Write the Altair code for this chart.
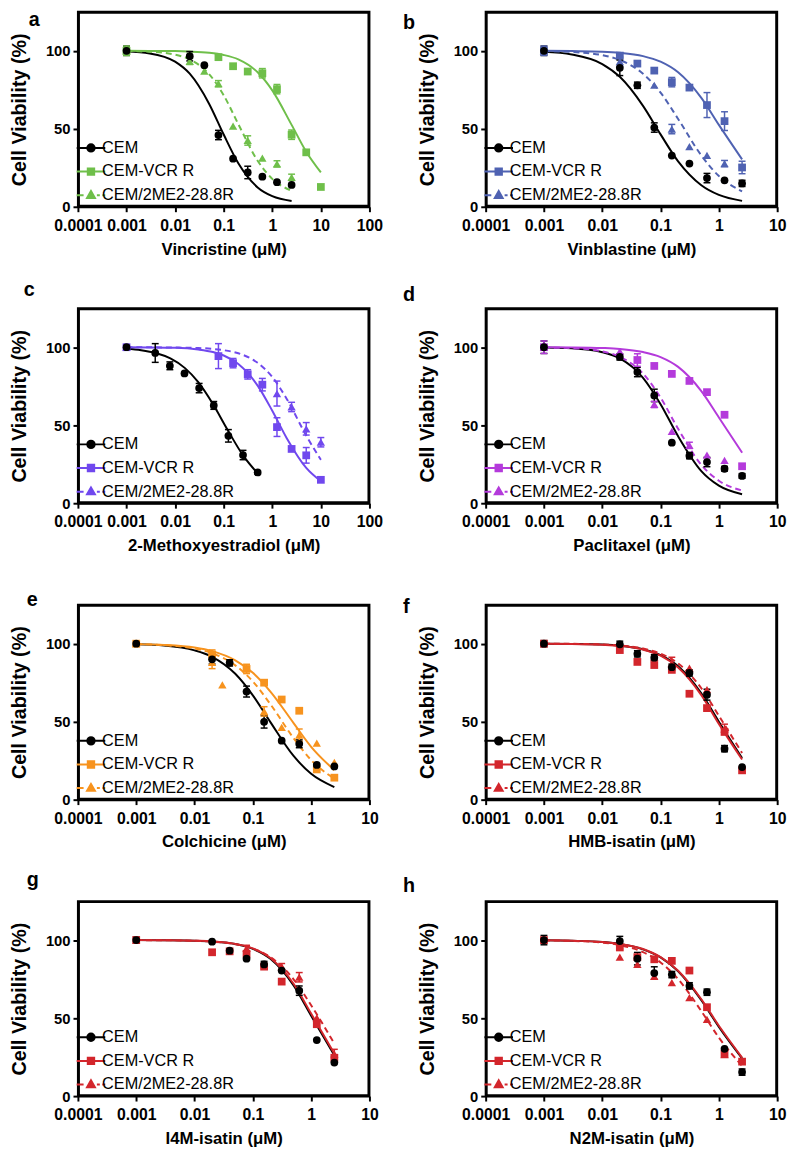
import altair as alt
import pandas as pd

# ---------------- data ----------------
SERIES = ["CEM", "CEM-VCR R", "CEM/2ME2-28.8R"]
PANEL_IDS = ["a", "b", "c", "d", "e", "f", "g", "h"]
DRUGS = ["Vincristine (μM)", "Vinblastine (μM)", "2-Methoxyestradiol (μM)",
         "Paclitaxel (μM)", "Colchicine (μM)", "HMB-isatin (μM)",
         "I4M-isatin (μM)", "N2M-isatin  (μM)"]
X_MIN = 0.0001
X_MAX = [100, 10, 100, 10, 10, 10, 10, 10]
Y_MAX = 125
PANEL_COLORS = ["#6FBF4A", "#4F62B2", "#7048EE", "#B43ADB",
                "#F7931E", "#D3262C", "#D3262C", "#D3262C"]
X_TICKS = [0.0001, 0.001, 0.01, 0.1, 1, 10, 100]
Y_TICKS = [0, 50, 100]

CONC = [0.001, 0.02, 0.04, 0.078, 0.156, 0.3125, 0.625, 1.25, 2.5]
CONC_C = [0.001, 0.0039, 0.0078, 0.0156, 0.03125, 0.0625, 0.125, 0.25, 0.5]
CONC_HI = [0.001, 0.078, 0.156, 0.3125, 0.625, 1.25, 2.5, 5, 10]

GRID = [0.001, 0.003, 0.01, 0.02, 0.05, 0.1, 0.2, 0.5, 1, 2.5]
GRID_A_VCR = [0.001, 0.003, 0.01, 0.02, 0.05, 0.1, 0.2, 0.5, 1, 2.5, 5, 10]
GRID_C_CEM = [0.001, 0.002, 0.004, 0.008, 0.016, 0.03, 0.06, 0.12, 0.25, 0.5]
GRID_C_RES = [0.001, 0.01, 0.03, 0.06, 0.1, 0.2, 0.5, 1, 2, 5, 10]

# measured points: (x, viability %, error)
PTS_A = {
    "CEM": (CONC, [100, 96.5, 90.8, 46, 30.8, 22, 19.3, 15.8, 14], [3, 3, 0, 3, 0, 4, 0, 0, 0]),
    "CEM-VCR R": (CONC_HI, [100, 95.9, 90.1, 86.7, 85.6, 75.4, 46.2, 34.9, 12.7], [0, 0, 0, 0, 3, 3, 3, 0, 0]),
    "CEM/2ME2-28.8R": (CONC, [100, 93.2, 87, 78.9, 51.7, 42.5, 31.2, 27.5, 18.9], [3, 2, 0, 2, 0, 3, 0, 2, 2]),
}
PTS_B = {
    "CEM": (CONC, [100, 89.1, 77.9, 50.8, 32.8, 27.7, 18.4, 17, 15], [3, 5, 2, 3, 0, 0, 3, 0, 2]),
    "CEM-VCR R": (CONC, [100, 96.9, 91.8, 87.3, 79.9, 76.4, 65.2, 54.9, 25.2], [3, 0, 0, 0, 3, 0, 8, 6, 4]),
    "CEM/2ME2-28.8R": ([0.001, 0.02, 0.078, 0.156, 0.3125, 0.625, 1.25],
                       [100, 93, 77.9, 49.8, 38.5, 33, 27.7], [0, 3, 0, 3, 0, 0, 2]),
}
PTS_C = {
    "CEM": (CONC_C, [100, 96.3, 88.1, 83.2, 73.8, 62.7, 43.2, 30.9, 19.7], [0, 6, 2.5, 0, 3, 2.5, 4, 3, 1]),
    "CEM-VCR R": (CONC_HI, [100, 94.3, 89.8, 82.6, 76, 48.8, 34.8, 30.7, 15], [0, 8, 3, 3, 4, 6, 0, 5, 0]),
    "CEM/2ME2-28.8R": ([0.001, 1.25, 2.5, 5, 10], [100, 70.3, 61.7, 47.7, 39.1], [0, 8, 3, 4, 3]),
}
PTS_D = {
    "CEM": (CONC, [100, 93.8, 84.1, 69.1, 38.8, 30.5, 26.4, 22.1, 17.5], [4, 2, 3, 4, 0, 2, 3, 1.5, 1.5]),
    "CEM-VCR R": ([0.001, 0.04, 0.078, 0.156, 0.3125, 0.625, 1.25, 2.5],
                  [100, 91.8, 88, 82.9, 78.4, 71.2, 56.7, 23.7], [4, 4, 0, 0, 0, 0, 0, 0]),
    "CEM/2ME2-28.8R": ([0.001, 0.02, 0.078, 0.156, 0.3125, 0.625, 1.25],
                       [100, 97.3, 63.3, 46, 37.1, 30.9, 27.4], [0, 0, 2, 0, 2, 0, 0]),
}
PTS_E = {
    "CEM": (CONC, [100, 90, 87.7, 69.3, 49.9, 37.8, 35.8, 22.3, 21.3], [0, 3, 2, 3.5, 4, 0, 2.5, 0, 0]),
    "CEM-VCR R": ([0.001, 0.02, 0.078, 0.156, 0.3125, 0.625, 1.25, 2.5],
                  [100, 93, 83.8, 75, 64.2, 57, 19.4, 14.1], [0, 3, 3, 0, 0, 0, 0, 0]),
    "CEM/2ME2-28.8R": ([0.001, 0.02, 0.03, 0.156, 0.3125, 0.625, 1.25, 2.5],
                       [100, 88, 73.6, 56.6, 46.4, 41.3, 36.2, 23.9], [0, 4, 0, 3, 0, 4, 0, 0]),
}
PTS_F = {
    "CEM": (CONC, [100, 99.6, 93.5, 91, 84.9, 81.2, 67.3, 32.7, 20.9], [2, 2, 2, 2, 2, 2, 3.5, 2, 0]),
    "CEM-VCR R": (CONC, [100, 95.9, 88.3, 86.3, 83.2, 67.9, 58.7, 43.4, 18.8], [0, 0, 0, 0, 0, 0, 0, 0, 0]),
    "CEM/2ME2-28.8R": ([0.078, 0.156, 0.3125, 0.625, 1.25], [91.4, 87.3, 84.3, 70.6, 45.4], [0, 4, 0, 0, 3]),
}
PTS_G = {
    "CEM": (CONC, [100, 99, 93.2, 88.1, 84.4, 80.5, 67.6, 35.9, 21.5], [2, 0, 0, 0, 2, 0, 3, 0, 0]),
    "CEM-VCR R": ([0.001, 0.02, 0.04, 0.078, 0.156, 0.3125, 1.25, 2.5],
                  [100, 92.2, 92.8, 91.2, 83, 73.4, 46.1, 24.6], [0, 0, 0, 0, 0, 0, 0, 0]),
    "CEM/2ME2-28.8R": ([0.078, 0.3125, 0.625, 1.25, 2.5], [94.7, 83, 76.2, 50.2, 27], [2, 2, 3, 0, 3]),
}
PTS_H = {
    "CEM": (CONC, [100, 99.4, 88.1, 78.9, 77.9, 70.7, 66.6, 30.3, 15.4], [3, 3, 4, 4, 2, 2, 2, 0, 2]),
    "CEM-VCR R": (CONC, [100, 95.3, 89.1, 87.7, 86.7, 80.5, 57, 27, 22.1], [0, 0, 0, 0, 0, 0, 0, 0, 0]),
    "CEM/2ME2-28.8R": ([0.02, 0.04, 0.078, 0.156, 0.3125, 0.625, 1.25],
                       [89.1, 84.4, 76.8, 72.7, 63.1, 49.2, 26.6], [0, 0, 0, 0, 0, 0, 0]),
}

# fitted curves at sample concentrations
CURVE_A = {
    "CEM": (GRID, [99.5, 98.3, 93.0, 85.3, 66.1, 46.3, 27.9, 12.4, 6.8, 3.7]),
    "CEM-VCR R": (GRID_A_VCR, [100, 99.9, 99.8, 99.5, 98.7, 97.3, 94.5, 86.2, 74.6, 52.5, 35.3, 22.0]),
    "CEM/2ME2-28.8R": (GRID, [99.8, 99.4, 97.5, 94.4, 85.1, 71.5, 53.0, 29.5, 17.9, 10.3]),
}
CURVE_B = {
    "CEM": (GRID, [99.3, 97.6, 91.5, 83.3, 64.7, 46.4, 29.1, 13.8, 7.6, 3.8]),
    "CEM-VCR R": (GRID, [100, 99.8, 99.4, 98.7, 96.6, 93.0, 86.2, 69.8, 52.5, 30.4]),
    "CEM/2ME2-28.8R": (GRID, [99.8, 99.2, 97.2, 94.1, 85.3, 73.2, 56.3, 32.9, 19.7, 9.9]),
}
CURVE_C = {
    "CEM": (GRID_C_CEM, [99.0, 98.1, 96.3, 92.8, 86.6, 77.6, 63.6, 47.1, 30.7, 19.2]),
    "CEM-VCR R": (GRID_C_RES, [100, 99.6, 98.5, 96.9, 94.7, 89.2, 75.4, 59.3, 41.5, 22.6, 14.1]),
    "CEM/2ME2-28.8R": (GRID_C_RES, [100, 99.8, 99.5, 98.9, 98.1, 96.1, 90.0, 80.9, 66.7, 43.3, 27.8]),
}
CURVE_D = {
    "CEM": (GRID, [99.8, 99.3, 96.8, 92.8, 80.4, 63.5, 42.9, 20.6, 11.3, 5.8]),
    "CEM-VCR R": (GRID, [100, 99.9, 99.5, 98.9, 96.9, 93.7, 87.4, 71.9, 55.0, 32.4]),
    "CEM/2ME2-28.8R": (GRID, [99.8, 99.4, 97.3, 93.9, 83.1, 67.7, 47.7, 24.6, 14.4, 8.2]),
}
CURVE_E = {
    "CEM": (GRID, [99.6, 98.8, 95.7, 91.6, 80.7, 66.9, 49.7, 28.0, 16.6, 8.1]),
    "CEM-VCR R": (GRID, [99.7, 99.2, 97.5, 95.2, 89.3, 81.3, 69.3, 49.1, 33.9, 18.9]),
    "CEM/2ME2-28.8R": (GRID, [99.7, 99.0, 96.9, 93.9, 86.1, 75.8, 61.2, 39.4, 25.4, 13.4]),
}
CURVE_F = {
    "CEM": (GRID, [100, 99.8, 99.4, 98.7, 96.4, 92.6, 85.5, 68.2, 50.0, 26.7]),
    "CEM-VCR R": (GRID, [99.9, 99.8, 99.3, 98.6, 96.2, 92.3, 84.7, 67.0, 48.6, 25.7]),
    "CEM/2ME2-28.8R": (GRID, [100, 99.9, 99.5, 98.9, 96.9, 93.6, 87.3, 71.4, 53.8, 29.9]),
}
CURVE_G = {
    "CEM": (GRID, [100, 99.9, 99.6, 99.1, 97.5, 94.4, 88.0, 70.9, 51.5, 26.1]),
    "CEM-VCR R": (GRID, [100, 99.9, 99.6, 99.2, 97.6, 94.7, 88.5, 72.0, 52.9, 27.2]),
    "CEM/2ME2-28.8R": (GRID, [100, 99.9, 99.6, 99.0, 97.4, 94.6, 89.1, 74.9, 58.2, 33.7]),
}
CURVE_H = {
    "CEM": (GRID, [99.9, 99.6, 98.8, 97.6, 94.1, 88.9, 80.0, 61.5, 44.4, 24.2]),
    "CEM-VCR R": (GRID, [99.9, 99.6, 98.8, 97.6, 94.3, 89.1, 80.4, 62.1, 45.1, 24.7]),
    "CEM/2ME2-28.8R": (GRID, [99.8, 99.5, 98.4, 96.8, 92.3, 85.7, 75.0, 54.5, 37.5, 19.4]),
}

ALL_PTS = [PTS_A, PTS_B, PTS_C, PTS_D, PTS_E, PTS_F, PTS_G, PTS_H]
ALL_CURVES = [CURVE_A, CURVE_B, CURVE_C, CURVE_D, CURVE_E, CURVE_F, CURVE_G, CURVE_H]

# ---------------- tables ----------------
prow, crow = [], []
for pid, pts, crv in zip(PANEL_IDS, ALL_PTS, ALL_CURVES):
    for s in SERIES:
        xs, ys, es = pts[s]
        for x, y, e in zip(xs, ys, es):
            prow.append({"panel": pid, "series": s, "x": x, "y": y, "err": e})
        cx, cy = crv[s]
        for x, y in zip(cx, cy):
            crow.append({"panel": pid, "series": s, "x": x, "y": y})
points_df = pd.DataFrame(prow)
curves_df = pd.DataFrame(crow)

# ---------------- style ----------------
FONT = "Liberation Sans"
W, H = 296, 198
SHAPES = ["circle", "square", "triangle-up"]
LEGEND_PATHS = [
    "M-2.9,0L2.9,0M0.75,0A0.75,0.75,0,1,1,-0.75,0A0.75,0.75,0,1,1,0.75,0Z",
    "M-2.9,0L2.9,0M-0.65,-0.65L0.65,-0.65L0.65,0.65L-0.65,0.65Z",
    "M-2.9,0L-1.5,0M1.2,0L1.8,0M2.3,0L2.9,0M0,-0.85L0.8,0.55L-0.8,0.55Z",
]
LETTER_POS = {"a": (-50, 14), "b": (-84, 17), "c": (-55, -12), "d": (-84, -7),
              "e": (-52, 1), "f": (-84, 8), "g": (-52, -15), "h": (-84, -9)}


def make_panel(i):
    pid = PANEL_IDS[i]
    col = PANEL_COLORS[i]
    colors = ["black", col, col]
    xscale = alt.Scale(type="log", domain=[X_MIN, X_MAX[i]], nice=False)
    yscale = alt.Scale(domain=[0, Y_MAX], nice=False)
    xaxis = alt.Axis(values=[t for t in X_TICKS if t <= X_MAX[i]], format="~g",
                     title=DRUGS[i], labelOverlap=False, labelFlush=False,
                     labelFontSize=16, labelPadding=6, titleFontSize=17, titlePadding=8)
    yaxis = alt.Axis(values=Y_TICKS, title="Cell Viability (%)",
                     labelFontSize=15, labelPadding=3, titleFontSize=20, titlePadding=16)

    def X(field):
        return alt.X(f"{field}:Q", scale=xscale, axis=xaxis, title=DRUGS[i])

    def Y(field):
        return alt.Y(f"{field}:Q", scale=yscale, axis=yaxis, title="Cell Viability (%)")

    layers = []
    for k, s in enumerate(SERIES):
        f = f"datum.panel == '{pid}' && datum.series == '{s}'"
        mk = dict(color=colors[k], strokeWidth=2, interpolate="monotone")
        if k == 2:
            mk["strokeDash"] = [6, 4]
        layers.append(alt.Chart(curves_df).transform_filter(f).mark_line(**mk)
                      .encode(x=X("x"), y=Y("y")))
    for k, s in enumerate(SERIES):
        f = f"datum.panel == '{pid}' && datum.series == '{s}' && datum.err > 0"
        eb = alt.Chart(points_df).transform_filter(f).transform_calculate(
            lo="datum.y - datum.err", hi="datum.y + datum.err")
        layers.append(eb.mark_rule(color=colors[k], strokeWidth=1.5, opacity=1)
                      .encode(x=X("x"), y=Y("lo"), y2="hi:Q"))
        for fld in ["lo", "hi"]:
            layers.append(eb.mark_tick(color=colors[k], orient="horizontal", size=7,
                                       thickness=1.5, opacity=1)
                          .encode(x=X("x"), y=Y(fld)))
    for k in [1, 2, 0]:
        s = SERIES[k]
        f = f"datum.panel == '{pid}' && datum.series == '{s}'"
        layers.append(alt.Chart(points_df).transform_filter(f)
                      .mark_point(shape=SHAPES[k], filled=True, size=62 if k < 2 else 72,
                                  color=colors[k], opacity=1)
                      .encode(x=X("x"), y=Y("y")))
    leg = alt.Legend(title=None, orient="none", legendX=5, legendY=H - 68,
                     symbolSize=100, symbolStrokeWidth=2, symbolOpacity=1,
                     labelFont=FONT, labelFontSize=16.5, labelColor="black",
                     labelOffset=3, rowPadding=7, padding=0)
    layers.append(alt.Chart(points_df).transform_filter("false")
                  .mark_point(filled=True, strokeWidth=2, opacity=1)
                  .encode(x=X("x"), y=Y("y"),
                          fill=alt.Fill("series:N", scale=alt.Scale(domain=SERIES, range=colors), legend=leg),
                          stroke=alt.Stroke("series:N", scale=alt.Scale(domain=SERIES, range=colors), legend=leg),
                          shape=alt.Shape("series:N", scale=alt.Scale(domain=SERIES, range=LEGEND_PATHS), legend=leg)))
    dx, dy = LETTER_POS[pid]
    layers.append(alt.Chart(alt.Data(values=[{}]))
                  .mark_text(text=pid, font=FONT, fontSize=20, fontWeight="bold",
                             align="left", baseline="alphabetic", color="black")
                  .encode(x=alt.value(dx), y=alt.value(dy)))
    # plot frame, drawn last and inset by one pixel
    layers.append(alt.Chart(alt.Data(values=[{}]))
                  .mark_rect(filled=False, stroke="black", strokeWidth=2, opacity=1)
                  .encode(x=alt.value(1), x2=alt.value(W - 1), y=alt.value(1), y2=alt.value(H - 1)))
    return alt.layer(*layers).properties(width=W, height=H)


chart = alt.concat(
    *[make_panel(i) for i in range(8)],
    columns=2, spacing=alt.RowColnumber(row=103, column=118), bounds="flush"
).resolve_scale(
    fill="independent", stroke="independent", shape="independent"
).resolve_legend(
    fill="independent", stroke="independent", shape="independent"
).properties(
    padding={"left": 0, "top": -8, "right": 2, "bottom": 2}
).configure(font=FONT).configure_view(
    stroke="black", strokeWidth=2
).configure_axis(
    labelFont=FONT, titleFont=FONT, labelFontWeight="bold", titleFontWeight="bold",
    labelColor="black", titleColor="black", domainColor="black", tickColor="black",
    domainWidth=2, tickWidth=2, tickSize=5, grid=False
)

chart.save("out.html", embed_options={"renderer": "svg", "actions": False})
